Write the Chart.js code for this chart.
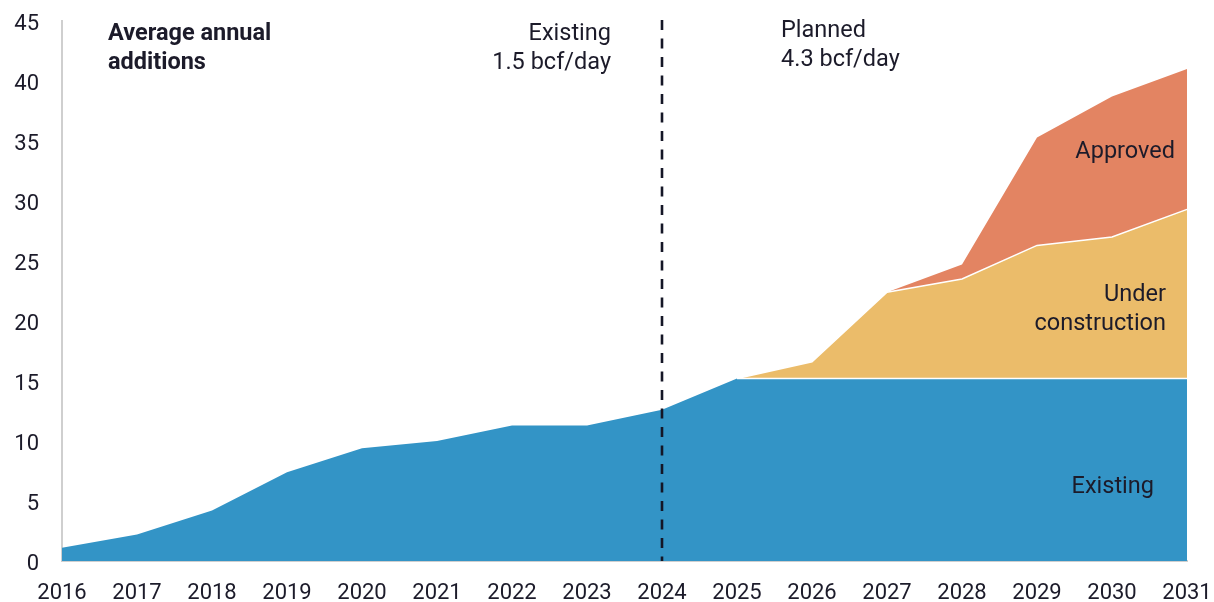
<!DOCTYPE html>
<html>
<head>
<meta charset="utf-8">
<script src="https://cdn.jsdelivr.net/npm/chart.js@4.4.1/dist/chart.umd.min.js"></script>
<style>
html,body{margin:0;padding:0;background:#fff;}
#wrap{width:1214px;height:602px;position:relative;}
</style>
</head>
<body>
<div id="wrap"><canvas id="c" width="1214" height="602"></canvas></div>
<script>
// ---- Data (bcf/day, cumulative capacity) ----
const years = ['2016','2017','2018','2019','2020','2021','2022','2023','2024','2025','2026','2027','2028','2029','2030','2031'];
const existing          = [1.1, 2.2, 4.2, 7.4, 9.4, 10.0, 11.3, 11.3, 12.6, 15.2, 15.2, 15.2, 15.2, 15.2, 15.2, 15.2];
const underConstruction = [null, null, null, null, null, null, null, null, null, 0, 1.4, 7.2, 8.3, 11.1, 11.8, 14.1];
const approved          = [null, null, null, null, null, null, null, null, null, null, null, 0, 1.2, 9.0, 11.7, 11.7];
const yTicks = [0, 5, 10, 15, 20, 25, 30, 35, 40, 45];
const dividerYear = '2024';

// stacked tops for drawing
const ucTop = underConstruction.map((v, i) => v === null ? null : existing[i] + v);
const apTop = approved.map((v, i) => v === null ? null : ucTop[i] + v);
// white separator along the top of "Existing" where planned capacity sits on it
const existingEdge = underConstruction.map((v, i) => v === null ? null : existing[i]);

const FONT = "Roboto, 'Liberation Sans', sans-serif";
const TXT = '#1c1b2a';

const annotations = {
  id: 'annotations',
  afterDatasetsDraw(chart) {
    const {ctx, scales: {x, y}, chartArea} = chart;
    ctx.save();
    // dashed divider
    const dx = x.getPixelForValue(years.indexOf(dividerYear));
    ctx.strokeStyle = '#141626';
    ctx.lineWidth = 2.6;
    ctx.setLineDash([10, 8.5]);
    ctx.beginPath();
    ctx.moveTo(dx, chartArea.top - 1);
    ctx.lineTo(dx, chartArea.bottom);
    ctx.stroke();
    ctx.setLineDash([]);

    ctx.fillStyle = TXT;
    ctx.textBaseline = 'middle';
    // Title
    ctx.font = "bold 23.5px " + FONT;
    ctx.textAlign = 'left';
    ctx.fillText('Average annual', 108, 34);
    ctx.fillText('additions', 108, 63);

    ctx.font = "23.5px " + FONT;
    ctx.textAlign = 'right';
    ctx.fillText('Existing', 611, 34);
    ctx.fillText('1.5 bcf/day', 611, 63);

    ctx.textAlign = 'left';
    ctx.fillText('Planned', 781, 31);
    ctx.fillText('4.3 bcf/day', 781, 60);

    ctx.textAlign = 'right';
    ctx.fillText('Approved', 1175, 152);
    ctx.fillText('Under', 1166, 295);
    ctx.fillText('construction', 1166, 324);
    ctx.fillText('Existing', 1154, 487);
    ctx.restore();
  }
};

new Chart(document.getElementById('c'), {
  type: 'line',
  data: {
    labels: years,
    datasets: [
      {
        label: 'Existing edge',
        data: existingEdge,
        fill: false,
        borderColor: '#ffffff',
        borderWidth: 1.5,
        pointRadius: 0,
        tension: 0
      },
      {
        label: 'Existing',
        data: existing,
        backgroundColor: '#3394c6',
        fill: 'origin',
        borderWidth: 0,
        borderColor: 'rgba(0,0,0,0)',
        pointRadius: 0,
        tension: 0
      },
      {
        label: 'Under construction',
        data: ucTop,
        backgroundColor: '#ebbc6a',
        fill: 1,
        borderColor: '#ffffff',
        borderWidth: 1.5,
        pointRadius: 0,
        tension: 0
      },
      {
        label: 'Approved',
        data: apTop,
        backgroundColor: '#e38462',
        fill: '-1',
        borderColor: 'rgba(0,0,0,0)',
        borderWidth: 0,
        pointRadius: 0,
        tension: 0
      }
    ]
  },
  options: {
    responsive: false,
    animation: false,
    events: [],
    layout: { padding: { top: 21, right: 27, left: 0, bottom: 0 } },
    plugins: { legend: { display: false }, tooltip: { enabled: false } },
    scales: {
      x: {
        offset: false,
        grid: { display: false, drawTicks: false },
        border: { display: true, color: '#cfcfcf', width: 2 },
        ticks: { color: TXT, font: { family: FONT, size: 22 }, padding: 19, maxRotation: 0, autoSkip: false },
        afterFit(s) { s.height = 41; s.paddingLeft = 0; s.paddingRight = 0; }
      },
      y: {
        min: 0, max: 45,
        afterBuildTicks(s) { s.ticks = yTicks.map(v => ({ value: v })); },
        grid: { display: false, drawTicks: false },
        border: { display: true, color: '#cfcfcf', width: 2 },
        ticks: { color: TXT, font: { family: FONT, size: 22 }, padding: 23, labelOffset: 3 },
        afterFit(s) { s.width = 62; s.paddingTop = 0; s.paddingBottom = 0; }
      }
    }
  },
  plugins: [annotations]
});
</script>
</body>
</html>
